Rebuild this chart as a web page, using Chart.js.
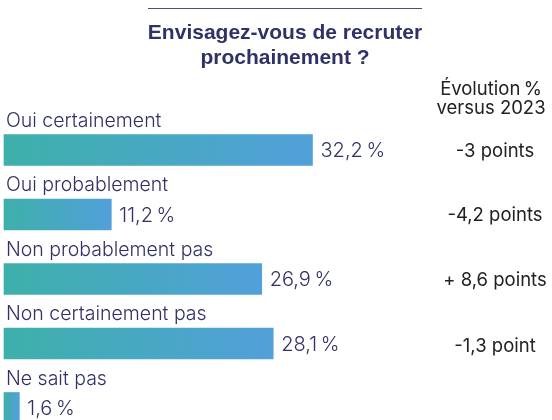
<!DOCTYPE html>
<html>
<head>
<meta charset="utf-8">
<script src="https://cdn.jsdelivr.net/npm/chart.js@4"></script>
<style>
    html, body { margin: 0; padding: 0; background: #ffffff; }
    #wrap { width: 552px; height: 420px; position: relative; }
</style>
</head>
<body>
<div id="wrap"><canvas id="recruitChart"></canvas></div>
<script>
const titleLines = ["Envisagez-vous de recruter", "prochainement ?"];
const categories = ["Oui certainement", "Oui probablement", "Non probablement pas", "Non certainement pas", "Ne sait pas"];
const values = [32.2, 11.2, 26.9, 28.1, 1.6];
const valueLabels = ["32,2\u202F%", "11,2\u202F%", "26,9\u202F%", "28,1\u202F%", "1,6\u202F%"];
const evolutionHeader = ["Évolution\u202F%", "versus 2023"];
const evolutionLabels = ["-3 points", "-4,2 points", "+ 8,6 points", "-1,3 point", ""];

const NAVY = "#2e3266";

function barGradient(context) {
    const chart = context.chart;
    if (!chart.chartArea || !chart.scales.x) return "#47a7c4";
    const xs = chart.scales.x;
    const x0 = xs.getPixelForValue(0);
    const x1 = xs.getPixelForValue(values[context.dataIndex]);
    const g = chart.ctx.createLinearGradient(x0, 0, Math.max(x1, x0 + 1), 0);
    g.addColorStop(0, "#3db0aa");
    g.addColorStop(1, "#52a0da");
    return g;
}

// draws title, labels above bars, values and the right-hand column
const textPlugin = {
    id: "textPlugin",
    afterDatasetsDraw(chart) {
        const ctx = chart.ctx;
        const xs = chart.scales.x;
        const ys = chart.scales.y;
        ctx.save();

        // rule above title
        ctx.strokeStyle = "#4a4e80";
        ctx.lineWidth = 1;
        ctx.beginPath();
        ctx.moveTo(148, 8.5);
        ctx.lineTo(422, 8.5);
        ctx.stroke();

        ctx.fillStyle = NAVY;
        ctx.textAlign = "center";
        ctx.textBaseline = "middle";
        ctx.font = "bold 21px 'Liberation Sans', Arial, sans-serif";
        titleLines.forEach((t, i) => ctx.fillText(t, 285, 33 + i * 25));

        ctx.fillStyle = "#222222";
        ctx.font = "18.5px Inter, 'Liberation Sans', sans-serif";
        evolutionHeader.forEach((t, i) => ctx.fillText(t, 491, 89 + i * 19));

        categories.forEach((cat, i) => {
            const yc = ys.getPixelForValue(i);
            const xe = xs.getPixelForValue(values[i]);

            ctx.textAlign = "left";
            ctx.fillStyle = NAVY;
            ctx.font = "300 19.5px Inter, 'Noto Sans', sans-serif";
            ctx.fillText(cat, 6, yc - 29);

            ctx.font = "300 20px Inter, 'Noto Sans', sans-serif";
            ctx.fillText(valueLabels[i], xe + 8, yc + 1);

            if (evolutionLabels[i]) {
                ctx.textAlign = "center";
                ctx.fillStyle = "#222222";
                ctx.font = "18.5px Inter, 'Liberation Sans', sans-serif";
                ctx.fillText(evolutionLabels[i], 495, yc + (i === 3 ? 3 : 1));
            }
        });
        ctx.restore();
    },
};

new Chart(document.getElementById("recruitChart"), {
    type: "bar",
    data: {
        labels: categories,
        datasets: [
            {
                data: values,
                backgroundColor: barGradient,
                barThickness: 31,
                borderWidth: 0,
                clip: false,
            },
        ],
    },
    options: {
        indexAxis: "y",
        responsive: true,
        maintainAspectRatio: false,
        animation: false,
        layout: {
            padding: { top: 150, bottom: 12, left: 4, right: 0 },
        },
        scales: {
            x: { display: false, min: 0, max: 57.2 },
            y: { display: false, offset: false },
        },
        plugins: {
            legend: { display: false },
            tooltip: { enabled: false },
        },
    },
    plugins: [textPlugin],
});
</script>
</body>
</html>
